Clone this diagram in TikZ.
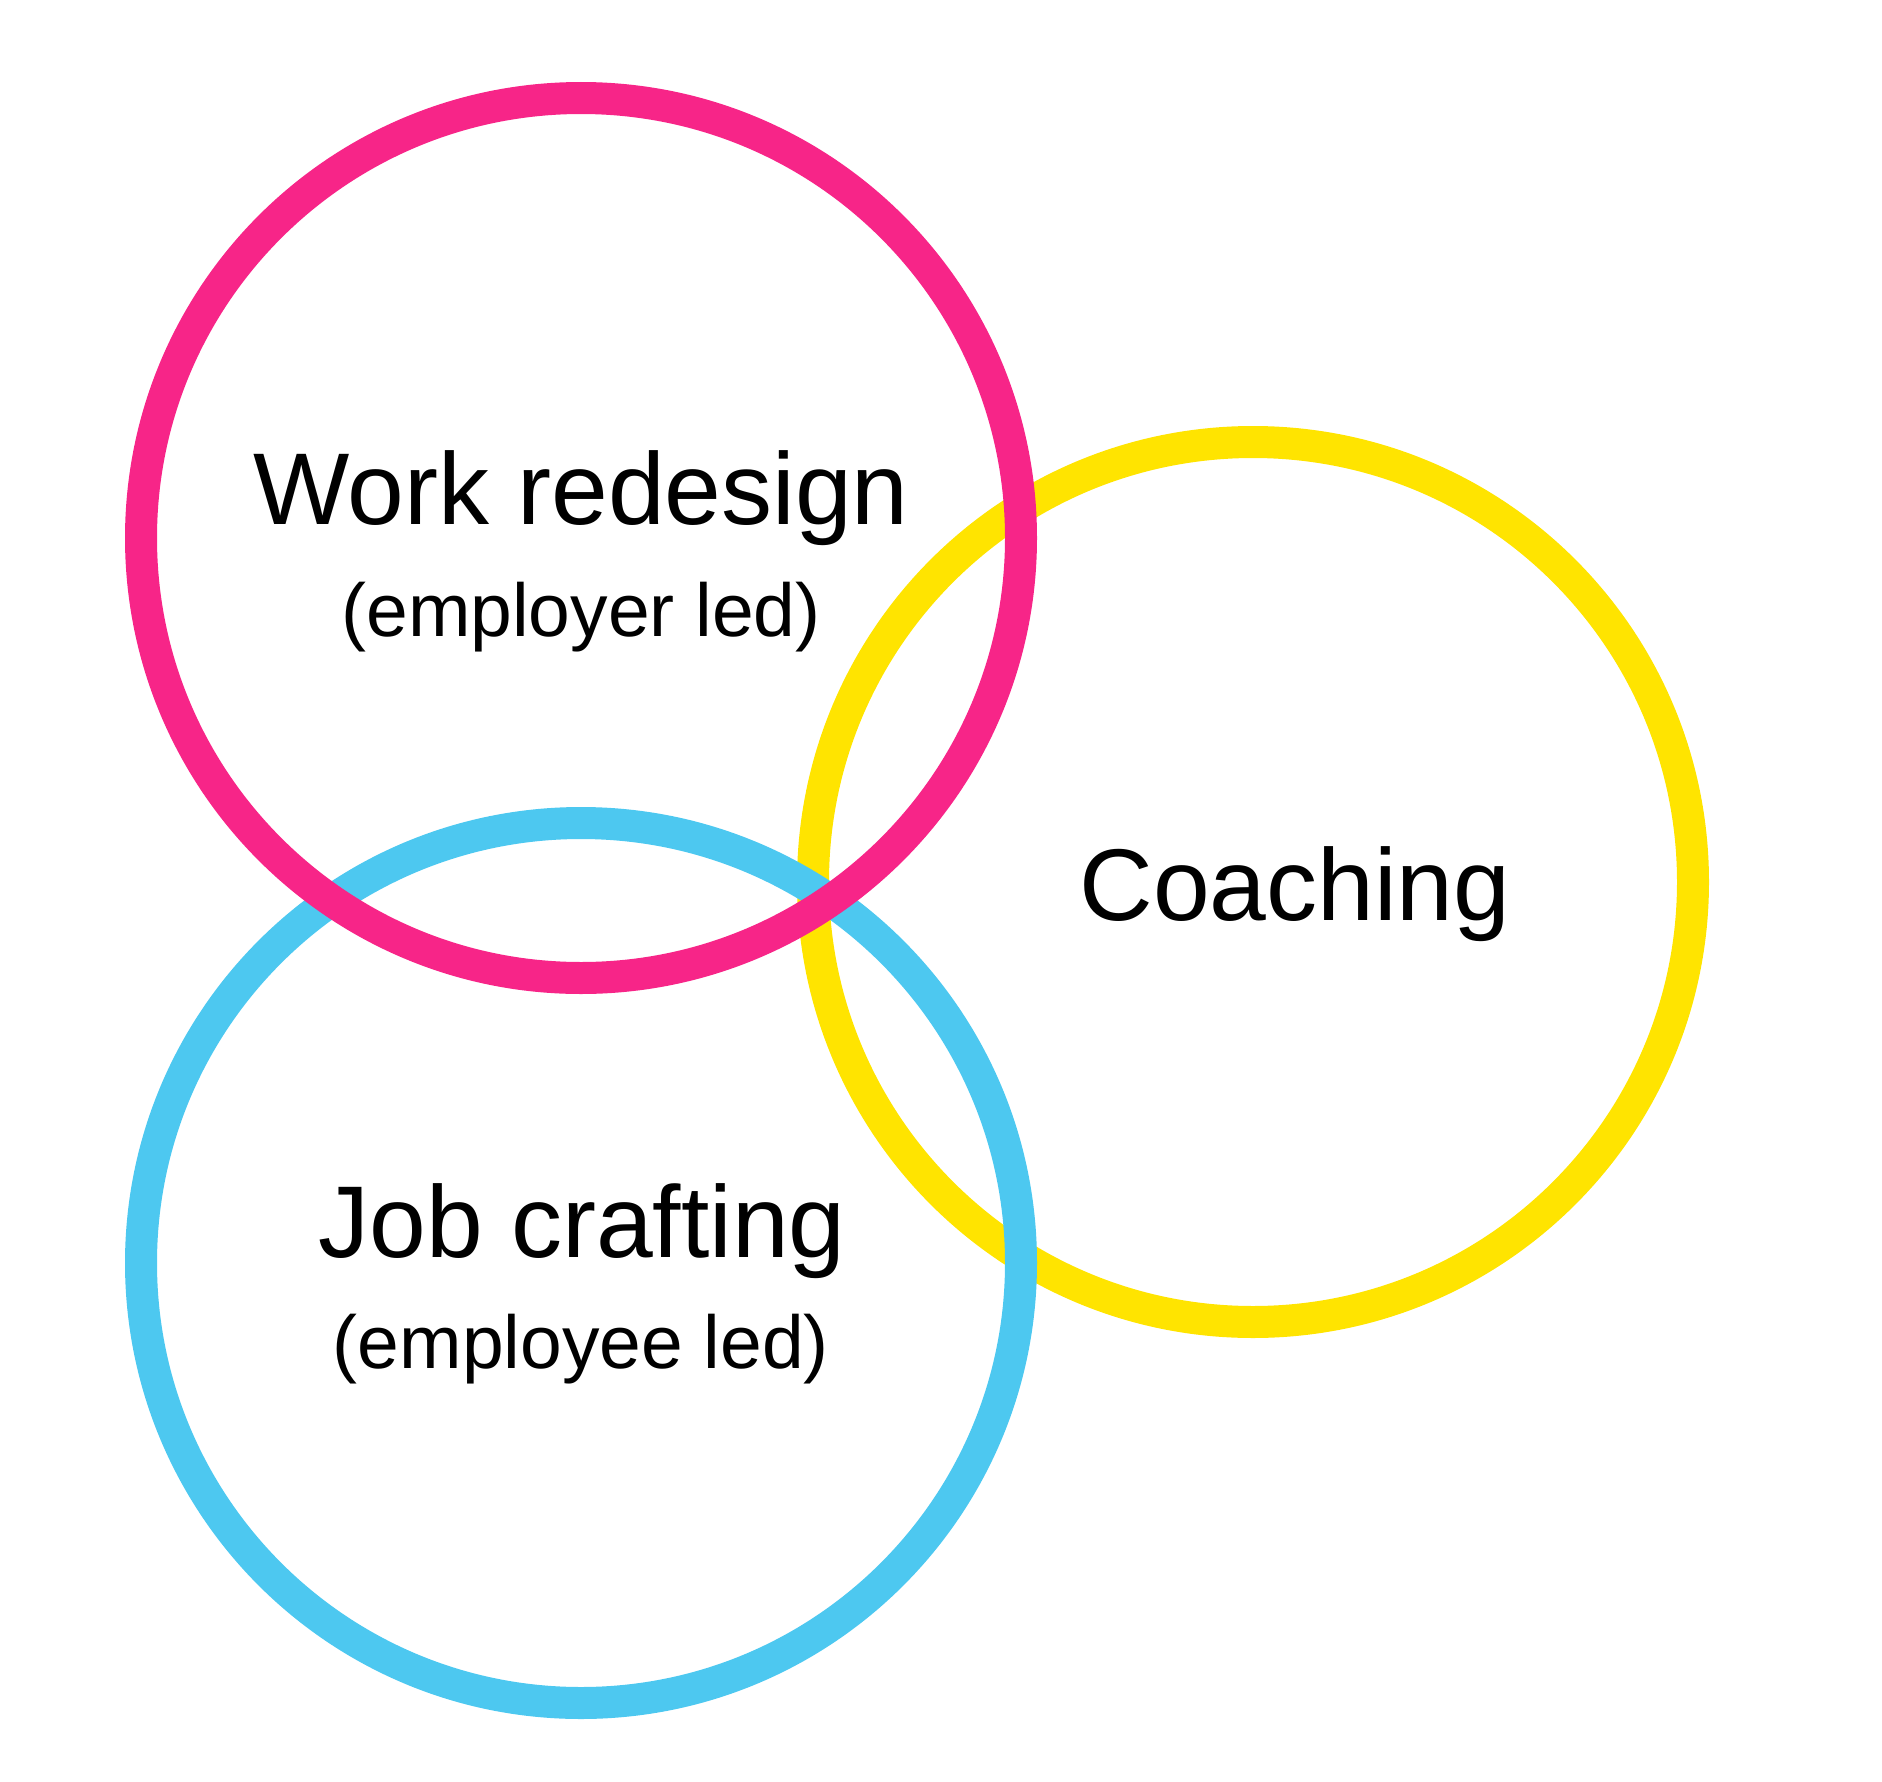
\documentclass[tikz,border=0pt]{standalone}
\usepackage{fontspec}
\setmainfont{Liberation Sans}
\definecolor{ringpink}{RGB}{247,37,136}
\definecolor{ringblue}{RGB}{77,200,240}
\definecolor{ringyellow}{RGB}{255,228,0}

\begin{document}
\begin{tikzpicture}
[x=1pt, y=-1pt, every node/.style={inner sep=0pt},
 ring/.style={circle, minimum size=880pt, line width=32pt, draw=#1},
 title/.style={anchor=base, font=\fontsize{102}{120}\selectfont},
 subtitle/.style={anchor=base, font=\fontsize{75}{90}\selectfont}]
\useasboundingbox (0,0) rectangle (1882,1782);
\node (coach) [ring=ringyellow] at (1253.0, 882.0) {};
\node (craft) [ring=ringblue] at (581.0, 1263.0) {};
\node (redesign) [ring=ringpink] at (581.0, 538.0) {};
\node (t1) [title] at (581.0, 524.0) {Work redesign};
\node (s1) [subtitle] at (581.0, 636.0) {(employer led)};
\node (t2) [title] at (1295.0, 920.0) {Coaching};
\node (t3) [title] at (582.0, 1257.0) {Job crafting};
\node (s3) [subtitle] at (581.0, 1368.0) {(employee led)};
\end{tikzpicture}
\end{document}
